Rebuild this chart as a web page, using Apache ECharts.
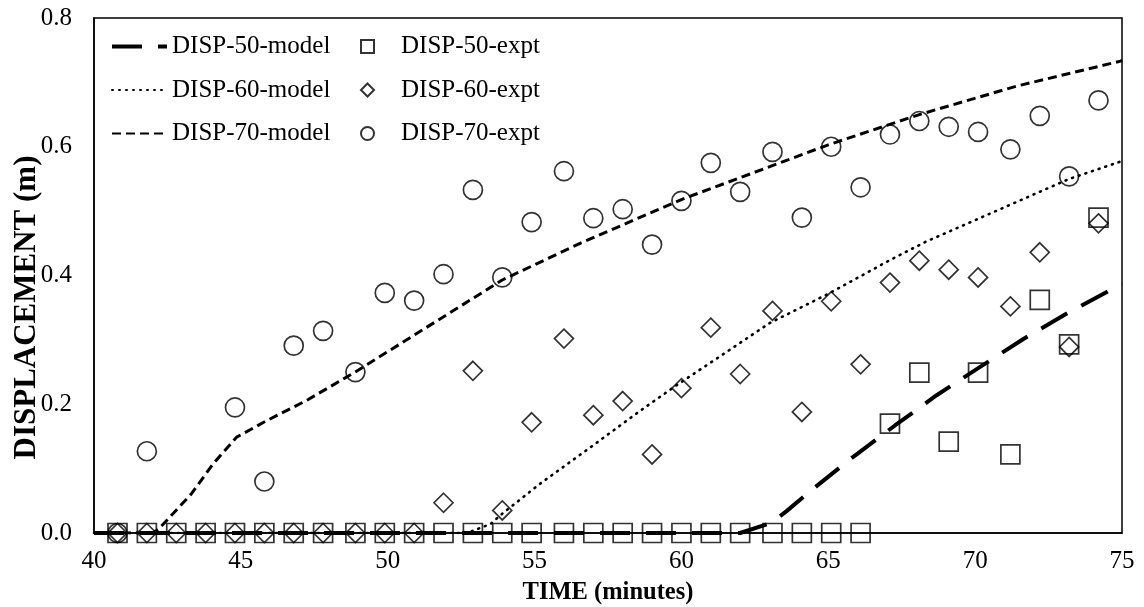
<!DOCTYPE html>
<html>
<head>
<meta charset="utf-8">
<script src="https://cdn.jsdelivr.net/npm/echarts@6/dist/echarts.min.js"></script>
<style>
  html, body { margin: 0; padding: 0; background: #fff; }
  #chart { width: 1144px; height: 607px; }
</style>
</head>
<body>
<div id="chart"></div>
<script>
// experiment sample times (minutes)
var exptTime = [40.8, 41.8, 42.8, 43.8, 44.8, 45.8, 46.8, 47.8, 48.9, 49.9, 50.9, 51.9, 52.9, 53.9, 54.9, 56.0, 57.0,
  58.0, 59.0, 60.0, 61.0, 62.0, 63.1, 64.1, 65.1, 66.1, 67.1, 68.1, 69.1, 70.1, 71.2, 72.2, 73.2, 74.2];

var disp50Expt = [0, 0, 0, 0, 0, 0, 0, 0, 0, 0, 0, 0, 0, 0, 0, 0, 0, 0, 0, 0, 0, 0, 0, 0, 0, 0,
  0.170, 0.249, 0.142, 0.249, 0.122, 0.362, 0.293, 0.490];
var disp60Expt = [0, 0, 0, 0, 0, 0, 0, 0, 0, 0, 0,
  0.047, 0.252, 0.035, 0.172, 0.302, 0.183, 0.205, 0.122, 0.225, 0.319, 0.247, 0.345, 0.188,
  0.360, 0.262, 0.389, 0.423, 0.409, 0.397, 0.352, 0.436, 0.289, 0.481];
var disp70Expt = [0, 0.127, null, null, 0.195, 0.080, 0.291, 0.314, 0.250, 0.373, 0.361, 0.402, 0.533, 0.397,
  0.483, 0.562, 0.489, 0.503, 0.448, 0.516, 0.575, 0.530, 0.592, 0.490, 0.600, 0.537, 0.619, 0.640,
  0.631, 0.623, 0.596, 0.648, 0.554, 0.672];

// model curves
var model50Time = [40, 62.0, 63.07, 63.58, 64.44, 65.84, 67.27, 68.69, 70.17, 71.63, 73.16, 74.76, 75];
var model50Disp = [0, 0, 0.016, 0.034, 0.067, 0.118, 0.167, 0.214, 0.258, 0.301, 0.342, 0.381, 0.387];
var model60Time = [40, 52.7, 53.5, 53.9, 55.2, 56.9, 58.6, 59.85, 61.3, 63.0, 65.06, 67.1, 68.3, 73.2, 74.95, 75];
var model60Disp = [0, 0, 0.014, 0.030, 0.077, 0.133, 0.190, 0.230, 0.274, 0.326, 0.373, 0.424, 0.452, 0.550, 0.577, 0.578];
var model70Time = [40, 42.0, 42.2, 43.3, 44.05, 44.86, 45.9, 47.24, 48.82, 53.9, 56.55, 60.0, 65.0, 68.1, 71.4, 74.95, 75];
var model70Disp = [0, 0, 0.006, 0.060, 0.107, 0.149, 0.175, 0.206, 0.248, 0.393, 0.450, 0.518, 0.603, 0.650, 0.694, 0.733, 0.734];

var xTicks = [40, 45, 50, 55, 60, 65, 70, 75];
var yTicks = [0, 0.2, 0.4, 0.6, 0.8];

function pairs(xs, ys) {
  var out = [];
  for (var i = 0; i < xs.length; i++) {
    if (ys[i] !== null) out.push([xs[i], ys[i]]);
  }
  return out;
}

var FONT = 'Liberation Serif';
var chart = echarts.init(document.getElementById('chart'), null, {renderer: 'canvas'});

var exptStyle = {color: 'rgba(0,0,0,0)', borderColor: '#000', borderWidth: 1.7};

chart.setOption({
  animation: false,
  grid: {
    left: 94, right: 22, top: 18, bottom: 74,
    outerBoundsMode: 'none', containLabel: false,
    show: true, borderColor: '#000', borderWidth: 1.5
  },
  legend: [
    {
      // model lines: hide the marker legend draws on the line
      orient: 'vertical', left: 105, top: 29,
      itemWidth: 55, itemHeight: 14, itemGap: 18.5,
      itemStyle: {opacity: 0},
      textStyle: {fontFamily: FONT, fontSize: 25, lineHeight: 25, color: '#000'},
      data: [
        {name: 'DISP-50-model', lineStyle: {width: 4}},
        {name: 'DISP-60-model'},
        {name: 'DISP-70-model'}
      ]
    },
    {
      orient: 'vertical', left: 355, top: 29,
      itemWidth: 13, itemHeight: 13, itemGap: 18.5,
      textStyle: {fontFamily: FONT, fontSize: 25, lineHeight: 25, color: '#000', padding: [0, 0, 0, 22]},
      data: ['DISP-50-expt', 'DISP-60-expt', 'DISP-70-expt']
    }
  ],
  xAxis: {
    type: 'value', min: xTicks[0], max: xTicks[xTicks.length - 1], interval: 5,
    name: 'TIME (minutes)', nameLocation: 'middle', nameGap: 47,
    nameTextStyle: {fontFamily: FONT, fontSize: 24.5, fontWeight: 'bold', color: '#000'},
    axisLine: {lineStyle: {color: '#000', width: 1.5}},
    axisTick: {show: false},
    splitLine: {show: false},
    axisLabel: {fontFamily: FONT, fontSize: 25, color: '#000', margin: 16}
  },
  yAxis: {
    type: 'value', min: yTicks[0], max: yTicks[yTicks.length - 1], interval: 0.2,
    name: 'DISPLACEMENT (m)', nameLocation: 'middle', nameGap: 52, nameMoveOverlap: false,
    nameTextStyle: {fontFamily: FONT, fontSize: 31, fontWeight: 'bold', color: '#000', padding: [0, 64, 0, 0]},
    axisLine: {show: true, lineStyle: {color: '#000', width: 1.5}},
    axisTick: {show: false},
    splitLine: {show: false},
    axisLabel: {fontFamily: FONT, fontSize: 25, color: '#000', margin: 22,
      formatter: function (v) { return v.toFixed(1); }}
  },
  series: [
    {
      name: 'DISP-50-model', type: 'line', data: pairs(model50Time, model50Disp),
      symbol: 'none', z: 3,
      lineStyle: {color: '#000', width: 4, type: [30, 16]},
      itemStyle: {color: '#000'}
    },
    {
      name: 'DISP-50-expt', type: 'scatter', data: pairs(exptTime, disp50Expt),
      symbol: 'rect', symbolSize: 19, itemStyle: exptStyle
    },
    {
      name: 'DISP-60-model', type: 'line', data: pairs(model60Time, model60Disp),
      symbol: 'none', z: 3,
      lineStyle: {color: '#000', width: 2.6, type: [1, 6], cap: 'round'},
      itemStyle: {color: '#000'}
    },
    {
      name: 'DISP-60-expt', type: 'scatter', data: pairs(exptTime, disp60Expt),
      symbol: 'diamond', symbolSize: [19, 19], itemStyle: exptStyle
    },
    {
      name: 'DISP-70-model', type: 'line', data: pairs(model70Time, model70Disp),
      symbol: 'none', z: 3,
      lineStyle: {color: '#000', width: 3, type: [9, 5]},
      itemStyle: {color: '#000'}
    },
    {
      name: 'DISP-70-expt', type: 'scatter', data: pairs(exptTime, disp70Expt),
      symbol: 'circle', symbolSize: 19, itemStyle: exptStyle
    }
  ]
});
</script>
</body>
</html>
